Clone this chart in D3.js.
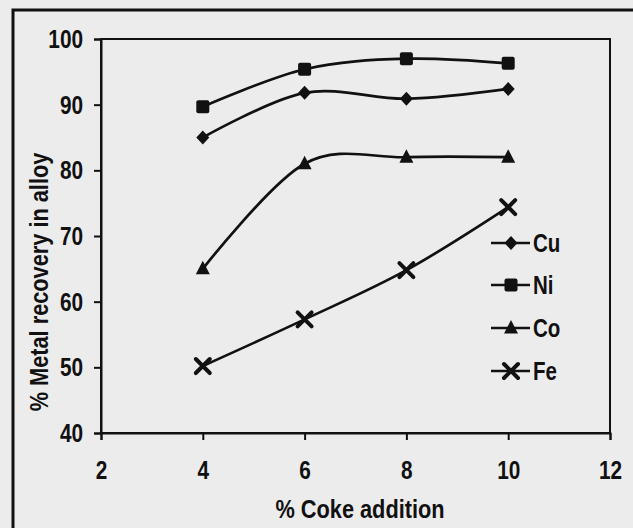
<!DOCTYPE html>
<html>
<head>
<meta charset="utf-8">
<script src="https://cdn.jsdelivr.net/npm/d3@7"></script>
<style>
  body { margin: 0; background: #ececec; }
  text { font-family: "Liberation Sans Narrow", "Arial Narrow", "Liberation Sans", sans-serif; font-weight: bold; fill: #111; }
</style>
</head>
<body>
<div id="chart"></div>
<script>
// data
const coke = [4, 6, 8, 10];
const cu = [85, 91.8, 90.9, 92.4];
const ni = [89.7, 95.4, 97, 96.3];
const co = [65, 81, 82, 82];
const fe = [50.2, 57.3, 64.8, 74.4];
const xTicks = [2, 4, 6, 8, 10, 12];
const yTicks = [40, 50, 60, 70, 80, 90, 100];

const series = [
    { name: "Cu", values: cu, symbol: "diamond" },
    { name: "Ni", values: ni, symbol: "square" },
    { name: "Co", values: co, symbol: "triangle" },
    { name: "Fe", values: fe, symbol: "cross" }
];

const width = 633;
const height = 528;
const squeeze = 0.8; // the original font is a narrow one

const svg = d3.select("#chart")
    .append("svg")
    .attr("width", width)
    .attr("height", height);

// outer frame of the figure (runs off the page right and bottom)
svg.append("rect")
    .attr("x", 13)
    .attr("y", 10)
    .attr("width", 700)
    .attr("height", 600)
    .attr("fill", "none")
    .attr("stroke", "#111")
    .attr("stroke-width", 3);

const x = d3.scaleLinear().domain([2, 12]).range([101, 610]);
const y = d3.scaleLinear().domain([40, 100]).range([433, 39]);

// plot box
svg.append("rect")
    .attr("x", x(2))
    .attr("y", y(100))
    .attr("width", x(12) - x(2))
    .attr("height", y(40) - y(100))
    .attr("fill", "none")
    .attr("stroke", "#111")
    .attr("stroke-width", 2);

const xAxis = svg.append("g")
    .attr("transform", `translate(0,${y(40)})`)
    .call(d3.axisBottom(x).tickValues(xTicks).tickSize(7).tickPadding(21));

const yAxis = svg.append("g")
    .attr("transform", `translate(${x(2)},0)`)
    .call(d3.axisLeft(y).tickValues(yTicks).tickSize(7).tickPadding(15.5));

[xAxis, yAxis].forEach(a => {
    a.select(".domain").attr("stroke", "#111").attr("stroke-width", 2);
    a.selectAll(".tick line").attr("stroke", "#111").attr("stroke-width", 2);
    a.selectAll(".tick text")
        .attr("fill", "#111")
        .attr("transform", `scale(${squeeze},1)`)
        .style("font-size", "26px");
});

// axis titles
svg.append("text")
    .attr("transform", "translate(360,518) scale(0.87,1)")
    .attr("text-anchor", "middle")
    .style("font-size", "25px")
    .text("% Coke addition");

svg.append("text")
    .attr("transform", "translate(48,282) rotate(-90) scale(0.87,1)")
    .attr("text-anchor", "middle")
    .style("font-size", "25px")
    .text("% Metal recovery in alloy");

const line = d3.line()
    .x((d, i) => x(coke[i]))
    .y(d => y(d))
    .curve(d3.curveCardinal);

// draw a marker of given symbol at cx, cy
const drawMarker = (sel, symbol, cx, cy) => {
    const g = sel.append("g").attr("transform", `translate(${cx},${cy})`);
    if (symbol === "diamond") {
        g.append("path").attr("d", "M0,-7L6.5,0L0,7L-6.5,0Z").attr("fill", "#111");
    } else if (symbol === "square") {
        g.append("rect").attr("x", -6.5).attr("y", -6.5).attr("width", 13).attr("height", 13)
            .attr("rx", 2).attr("fill", "#111");
    } else if (symbol === "triangle") {
        g.append("path").attr("d", "M0,-8L7,5.5L-7,5.5Z").attr("fill", "#111");
    } else {
        g.append("path").attr("d", "M-7,-7L7,7M-7,7L7,-7")
            .attr("stroke", "#111").attr("stroke-width", 4).attr("stroke-linecap", "round");
    }
};

series.forEach(s => {
    svg.append("path")
        .datum(s.values)
        .attr("d", line)
        .attr("fill", "none")
        .attr("stroke", "#111")
        .attr("stroke-width", 2.7);

    s.values.forEach((v, i) => drawMarker(svg, s.symbol, x(coke[i]), y(v)));
});

// legend
const legendY = [243, 285, 328, 371];
series.forEach((s, i) => {
    const ly = legendY[i];
    svg.append("line")
        .attr("x1", 491).attr("x2", 530)
        .attr("y1", ly).attr("y2", ly)
        .attr("stroke", "#111")
        .attr("stroke-width", 2.7);
    drawMarker(svg, s.symbol, 511, ly);
    svg.append("text")
        .attr("transform", `translate(533,${ly + 9}) scale(0.82,1)`)
        .style("font-size", "25px")
        .text(s.name);
});
</script>
</body>
</html>
